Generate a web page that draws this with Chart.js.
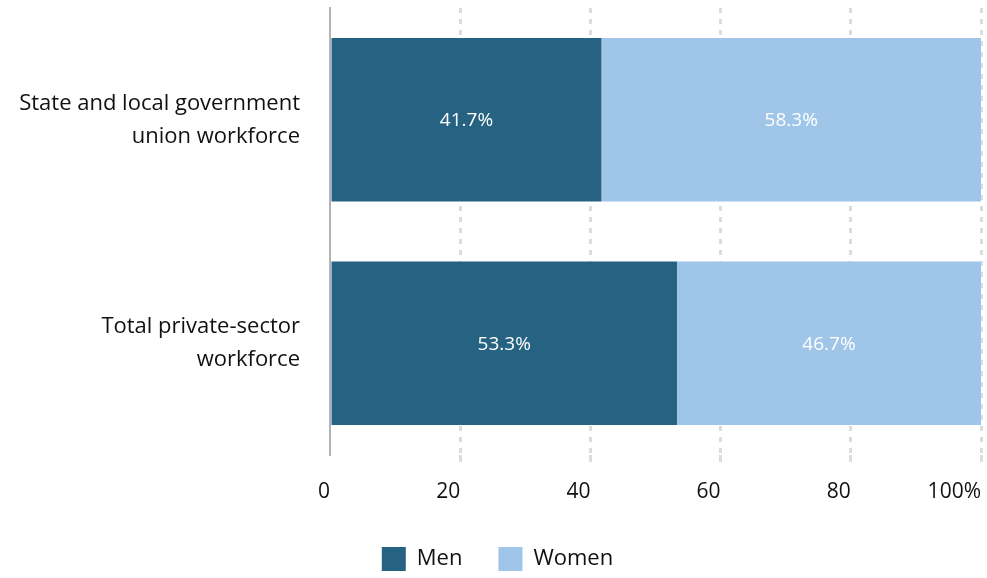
<!DOCTYPE html>
<html>
<head>
<meta charset="utf-8">
<script src="https://cdn.jsdelivr.net/npm/chart.js@4"></script>
<style>
  html, body { margin: 0; padding: 0; background: #fff; }
  #wrap { width: 987px; height: 578px; position: relative; }
</style>
</head>
<body>
<div id="wrap"><canvas id="chart"></canvas></div>
<script>
const categories = [
  ['State and local government', 'union workforce'],
  ['Total private-sector', 'workforce']
];
const men = [41.7, 53.3];
const women = [58.3, 46.7];
const seriesNames = ['Men', 'Women'];
const tickValues = [0, 20, 40, 60, 80, 100];

const FONT = '"Open Sans", Lato, sans-serif';
const DARK = '#266282';
const LIGHT = '#9fc5e8';

// writes the share inside each bar segment
const barLabels = {
  id: 'barLabels',
  afterDatasetsDraw(chart) {
    const ctx = chart.ctx;
    ctx.save();
    ctx.fillStyle = '#fff';
    ctx.font = '19px ' + FONT;
    ctx.textAlign = 'center';
    ctx.textBaseline = 'middle';
    chart.data.datasets.forEach((ds, i) => {
      chart.getDatasetMeta(i).data.forEach((bar, j) => {
        const cx = (bar.x + bar.base) / 2;
        ctx.fillText(ds.data[j].toFixed(1) + '%', cx, bar.y + 1);
      });
    });
    ctx.restore();
  }
};

new Chart(document.getElementById('chart'), {
  type: 'bar',
  data: {
    labels: categories,
    datasets: [
      { label: seriesNames[0], data: men, backgroundColor: DARK },
      { label: seriesNames[1], data: women, backgroundColor: LIGHT }
    ]
  },
  options: {
    indexAxis: 'y',
    responsive: true,
    maintainAspectRatio: false,
    animation: false,
    layout: { padding: { top: 8, right: 6, left: 14, bottom: -3 } },
    datasets: { bar: { categoryPercentage: 1, barPercentage: 0.732 } },
    scales: {
      x: {
        stacked: true,
        min: 0,
        max: 100,
        afterBuildTicks: axis => { axis.ticks = tickValues.map(v => ({ value: v })); },
        afterFit: s => { s.paddingLeft = 0; s.paddingRight = 0; s.height = 56; },
        grid: {
          color: ctx => ctx.tick && ctx.tick.value === 0 ? 'rgba(0,0,0,0)' : '#dcdcdc',
          lineWidth: 3,
          drawTicks: true,
          tickLength: 7
        },
        border: { display: false, dash: [5, 6] },
        ticks: {
          align: 'end',
          padding: 17,
          color: '#111',
          font: { family: FONT, size: 21 },
          callback: v => v === 100 ? '100%' : String(v)
        }
      },
      y: {
        stacked: true,
        // fixed label column so the value axis starts where it should
        afterFit: s => { s.paddingTop = 0; s.paddingBottom = 0; s.width = 316; },
        grid: { display: false, drawTicks: false },
        border: { display: true, color: '#b3b3b3', width: 2 },
        ticks: {
          padding: 30,
          color: '#111',
          font: { family: FONT, size: 22, lineHeight: 1.5 }
        }
      }
    },
    plugins: {
      legend: {
        position: 'bottom',
        labels: {
          boxWidth: 24,
          boxHeight: 24,
          padding: 36,
          color: '#111',
          font: { family: FONT, size: 22 }
        }
      },
      tooltip: { enabled: false }
    }
  },
  plugins: [barLabels]
});
</script>
</body>
</html>
